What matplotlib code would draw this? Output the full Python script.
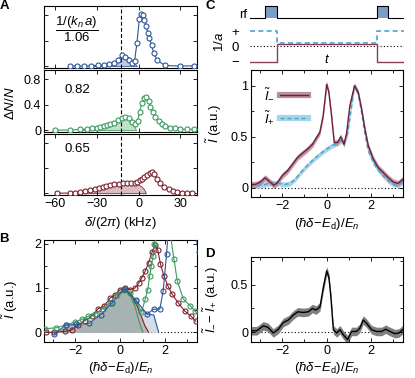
import numpy as np
import matplotlib.pyplot as plt
from matplotlib.ticker import MultipleLocator
from matplotlib.lines import Line2D

plt.rcParams['font.family'] = ['Liberation Sans', 'DejaVu Sans']
plt.rcParams['mathtext.fontset'] = 'custom'
plt.rcParams['mathtext.rm'] = 'Liberation Sans'
plt.rcParams['mathtext.it'] = 'Liberation Sans:italic'
plt.rcParams['mathtext.bf'] = 'Liberation Sans:bold'
plt.rcParams['font.size'] = 9
plt.rcParams['axes.linewidth'] = 0.8

W, H = 415, 378
FS = 9.5  # labels and in-panel text

# ---------------- panel A : dN/N vs delta/(2pi) in kHz
a_blue_x = [-49, -44, -39, -34, -29.5, -25, -21, -18, -15, -12, -9.6, -7.2, -4.8, -2.9, -1.2, 0.5,
            1.8, 3.0, 4.2, 5.4, 6.6, 7.8, 9.3, 11, 13.5, 19, 30, 39.6]
a_blue_y = [0, 0, 0, 0.005, 0.01, 0.02, 0.035, 0.05, 0.09, 0.17, 0.145, 0.09, 0.05, 0.08, 0.36, 0.74,
            0.82, 0.8, 0.73, 0.63, 0.53, 0.44, 0.33, 0.2, 0.09, 0.01, 0, 0.005]
a_blue_fill_x = [-34, -28, -23, -19, -15.5, -12, -9, -6.5, -3.6, -1.2]
a_blue_fill_y = [0, 0.008, 0.02, 0.05, 0.1, 0.17, 0.16, 0.13, 0.06, 0]

a_green_x = [-59.9, -49, -41.9, -37.1, -33.5, -29.9, -27.6, -25.2, -22.8, -20.4, -18, -14.8, -12, -9.6,
             -7.2, -4.8, -2.4, -0.7, 0.7, 2.4, 4.1, 5.5, 7.2, 8.4, 10.1, 12, 14.4, 16.8, 19.2, 22.8,
             26.4, 30, 34.8, 39.6]
a_green_y = [0, 0, 0.011, 0.016, 0.027, 0.037, 0.053, 0.069, 0.08, 0.091, 0.107, 0.16, 0.197, 0.213,
             0.187, 0.133, 0.09, 0.144, 0.293, 0.427, 0.507, 0.517, 0.453, 0.373, 0.293, 0.213, 0.144,
             0.096, 0.064, 0.037, 0.027, 0.016, 0.011, 0.011]
a_green_fill_x = [-42, -35, -27.6, -22, -18, -14.8, -12, -9.6, -7, -5, -3.4, -1.8]
a_green_fill_y = [0, 0.02, 0.05, 0.08, 0.105, 0.16, 0.197, 0.213, 0.19, 0.15, 0.08, 0]

a_red_x = [-58.7, -49.1, -45.5, -41.9, -38.3, -34.7, -31.6, -28.8, -25.9, -23.2, -20.4, -17.5, -14.4,
           -11.2, -8.3, -5.5, -2.9, -1.2, 0.7, 2.4, 4.1, 6, 7.9, 9.6, 11.3, 13.2, 15.6, 18.5, 21.6,
           24.7, 27.6, 31.2, 34.8, 38.4]
a_red_y = [0, 0, 0.005, 0.016, 0.032, 0.048, 0.064, 0.085, 0.1, 0.112, 0.128, 0.139, 0.144, 0.155,
           0.155, 0.155, 0.165, 0.181, 0.208, 0.235, 0.261, 0.299, 0.325, 0.341, 0.315, 0.235, 0.155,
           0.1, 0.059, 0.032, 0.016, 0.005, 0, 0]
a_red_fill_x = [-50, -45, -40, -35, -30, -25, -20, -15, -10, -5, -1, 2, 4, 5.2]
a_red_fill_y = [0, 0.02, 0.045, 0.07, 0.095, 0.12, 0.14, 0.158, 0.168, 0.165, 0.145, 0.11, 0.06, 0]

a_ratio_labels = ['1.06', '0.82', '0.65']
a_dashed_x = -13

# ---------------- panel B : normalised spectra vs (hbar delta - Ed)/En
b_red_x = [-3.3, -2.95, -2.46, -2.17, -1.87, -1.57, -1.27, -0.98, -0.72, -0.45, -0.22, 0.0, 0.22,
           0.45, 0.67, 0.82, 0.97, 1.12, 1.27, 1.42, 1.55, 1.68, 1.8, 1.95, 2.13, 2.32, 2.58, 2.88,
           3.15, 3.37]
b_red_y = [0.0, 0.0, 0.02, 0.05, 0.17, 0.26, 0.36, 0.53, 0.59, 0.77, 0.85, 0.96, 1.0, 0.96, 1.0, 1.1,
           1.23, 1.38, 1.57, 1.8, 1.97, 1.85, 1.54, 1.27, 1.05, 0.86, 0.67, 0.48, 0.37, 0.25]
b_green_x = [-3.35, -2.85, -2.4, -2.02, -1.72, -1.42, -1.12, -0.78, -0.45, -0.15, 0.15, 0.45, 0.72,
             0.95, 1.12, 1.23, 1.32, 1.39, 1.47, 1.53, 1.7, 1.95, 2.2, 2.4, 2.55, 2.82, 3.12, 3.33, 3.55]
b_green_y = [0.08, 0.1, 0.17, 0.23, 0.29, 0.36, 0.41, 0.53, 0.66, 0.85, 0.96, 0.89, 0.7, 0.45, 0.75,
             0.96, 1.27, 1.5, 1.72, 1.99, 2.3, 2.45, 2.35, 1.65, 1.16, 0.75, 0.6, 0.48, 0.38]
b_blue_x = [-2.95, -2.43, -1.95, -1.4, -0.85, -0.37, 0.18, 0.7, 1.2, 1.5, 1.77, 1.92, 2.07, 2.25,
            2.6, 3.1, 3.5]
b_blue_y = [-0.04, 0.16, 0.18, 0.2, 0.40, 0.66, 0.98, 0.72, 0.41, 0.52, 0.52, 0.93, 1.76, 3.0, 4.6,
            3.0, 1.8]
b_fill_left_x = [-2.95, -2.43, -1.95, -1.4, -0.85, -0.37, 0.18]
b_fill_left_y = [-0.04, 0.16, 0.18, 0.2, 0.40, 0.66, 0.98]
b_green_tail_x = [0.18, 0.45, 0.65, 0.8, 0.92, 1.02]
b_green_tail_y = [0.98, 0.82, 0.6, 0.33, 0.12, 0.0]
b_red_tail_x = [0.18, 0.5, 0.75, 0.95, 1.1, 1.27]
b_red_tail_y = [0.98, 0.85, 0.6, 0.35, 0.15, 0.0]
b_blue_tail_x = [0.18, 0.7, 1.2, 1.5, 1.72]
b_blue_tail_y = [0.98, 0.72, 0.41, 0.39, 0.0]

# ---------------- panel C : schematic and I- / I+
rf_t = [0, 0.097, 0.097, 0.173, 0.173, 0.827, 0.827, 0.898, 0.898, 1.0]
rf_on = [0, 0, 1, 1, 0, 0, 1, 1, 0, 0]
inv_a_t = [0, 0.173, 0.173, 0.827, 0.827, 1.0]
inv_a_plus = [1, 1, 0.22, 0.22, 1, 1]
inv_a_minus = [-1, -1, 0.18, 0.18, -1, -1]

c_minus_x = [-3.44, -3.2, -2.97, -2.77, -2.59, -2.37, -2.22, -1.99, -1.77, -1.54, -1.32, -1.09, -0.87,
             -0.64, -0.46, -0.31, -0.16, -0.04, 0.0, 0.1, 0.22, 0.34, 0.49, 0.63, 0.78, 0.9, 1.04,
             1.25, 1.42, 1.57, 1.72, 1.87, 2.1, 2.32, 2.55, 2.77, 3.0, 3.2, 3.44]
c_minus_y = [0.033, 0.033, 0.056, 0.098, 0.066, 0.023, 0.049, 0.121, 0.164, 0.23, 0.295, 0.338, 0.377,
             0.426, 0.492, 0.541, 0.705, 0.934, 1.015, 0.934, 0.705, 0.443, 0.443, 0.5, 0.426, 0.541,
             0.803, 1.0, 0.934, 0.77, 0.574, 0.41, 0.28, 0.197, 0.148, 0.098, 0.056, 0.043, 0.085]
c_plus_x = [-3.44, -3.07, -2.77, -2.47, -2.17, -1.87, -1.65, -1.42, -1.2, -0.97, -0.67, -0.37, -0.07,
            0.22, 0.45, 0.65, 0.8, 0.95, 1.1, 1.25, 1.42, 1.57, 1.72, 1.87, 2.1, 2.32, 2.55, 2.77,
            3.0, 3.2, 3.44]
c_plus_y = [0.016, 0.023, 0.033, 0.049, 0.043, 0.033, 0.043, 0.082, 0.141, 0.197, 0.262, 0.318, 0.37,
            0.41, 0.436, 0.459, 0.443, 0.541, 0.77, 1.0, 0.918, 0.738, 0.525, 0.36, 0.246, 0.174,
            0.115, 0.066, 0.033, 0.023, 0.06]
c_minus_err = 0.03
c_plus_err = 0.025

# ---------------- panel D : difference
d_x = [-3.44, -3.14, -2.85, -2.64, -2.4, -2.17, -1.95, -1.72, -1.5, -1.3, -1.05, -0.82, -0.64, -0.48,
       -0.3, -0.15, 0.0, 0.1, 0.19, 0.3, 0.45, 0.6, 0.75, 0.94, 1.12, 1.34, 1.49, 1.64, 1.79, 2.02,
       2.24, 2.47, 2.65, 2.84, 3.07, 3.25, 3.44]
d_y = [0.013, 0.013, 0.065, 0.05, -0.01, 0.03, 0.1, 0.127, 0.179, 0.213, 0.206, 0.213, 0.248, 0.231,
       0.265, 0.472, 0.644, 0.575, 0.368, 0.024, -0.01, 0.024, -0.03, -0.08, 0.006, 0.006, 0.04,
       0.127, 0.093, 0.024, 0.006, 0.006, 0.03, 0.006, -0.017, -0.01, 0.03]
d_err = 0.045

BLUE, BLUE_F = '#2d5596', '#b9c4dd'
GREEN, GREEN_F = '#3c9a5f', '#bcdcc5'
RED, RED_F = '#7d2230', '#d6b6ba'
C_RED, C_RED_F = '#6e1f3c', '#b8909f'
C_BLUE, C_BLUE_F = '#4aa3cd', '#a9d4e7'
XLAB = r'$(\hbar\delta\!-\!E_{\rm d})/E_n$'


def rect(x0, y0, x1, y1):
    return [x0 / W, 1 - y1 / H, (x1 - x0) / W, (y1 - y0) / H]


def style(ax):
    ax.tick_params(direction='in', which='both', top=True, right=True, length=3, width=0.6, pad=2)
    ax.tick_params(which='minor', length=2)


fig = plt.figure(figsize=(W / 100, H / 100), dpi=100)

# ---- A
a_sets = [(a_blue_x, a_blue_y, a_blue_fill_x, a_blue_fill_y, BLUE, BLUE_F),
          (a_green_x, a_green_y, a_green_fill_x, a_green_fill_y, GREEN, GREEN_F),
          (a_red_x, a_red_y, a_red_fill_x, a_red_fill_y, RED, RED_F)]
a_rows = [(6, 68), (70, 132), (134, 195)]
for i, (xs, ys, fx, fy, col, fcol) in enumerate(a_sets):
    ax = fig.add_axes(rect(44, a_rows[i][0], 197, a_rows[i][1]))
    ax.fill_between(fx, 0, fy, color=fcol, lw=0.6, ec=col, alpha=0.9, zorder=1)
    ax.axvline(a_dashed_x, color='k', ls=(0, (3.5, 2)), lw=0.8, zorder=2)
    ax.plot(xs, ys, '-o', color=col, lw=0.8, ms=3.6, mfc='white', mew=0.8, zorder=3)
    ax.set_xlim(-68, 42)
    ax.set_ylim(-0.03, 0.95)
    ax.set_xticks([-60, -30, 0, 30])
    ax.set_yticks([0, 0.4, 0.8])
    style(ax)
    if i == 1:
        ax.set_yticklabels(['0', '0.4', '0.8'])
        ax.set_ylabel(r'$\Delta N/N$', fontsize=FS)
        ax.yaxis.set_label_coords(-0.175, 0.47)
    else:
        ax.set_yticklabels([])
    if i == 2:
        ax.set_xticklabels(['\u221260', '\u221230', '0', '30'])
        ax.set_xlabel(r'$\delta/(2\pi)$ (kHz)', fontsize=FS, labelpad=4)
    else:
        ax.set_xticklabels([])
    if i == 0:
        ax.text(0.21, 0.62, r'$\dfrac{1/(k_n\,a)}{%s}$' % a_ratio_labels[0], transform=ax.transAxes,
                ha='center', va='center', fontsize=FS)
    else:
        ax.text(0.215, 0.68 if i == 1 else 0.75, a_ratio_labels[i], transform=ax.transAxes,
                ha='center', va='center', fontsize=FS)

# ---- B
axb = fig.add_axes(rect(44, 240, 197, 342))
bx = b_fill_left_x
axb.fill_between(bx + b_blue_tail_x[1:], 0, b_fill_left_y + b_blue_tail_y[1:], color='#d6dbe8', lw=0, zorder=1)
axb.fill_between(bx + b_red_tail_x[1:], 0, b_fill_left_y + b_red_tail_y[1:], color='#bdb3bb', lw=0, zorder=1.1)
axb.fill_between(bx + b_green_tail_x[1:], 0, b_fill_left_y + b_green_tail_y[1:], color='#a7b3b0', lw=0, zorder=1.2)
axb.plot(b_blue_tail_x[2:], b_blue_tail_y[2:], color=BLUE, lw=0.8, zorder=1.5)
axb.plot(b_red_tail_x, b_red_tail_y, color=RED, lw=0.8, zorder=1.5)
axb.plot(b_green_tail_x, b_green_tail_y, color=GREEN, lw=0.8, zorder=1.5)
axb.axhline(0, color='k', ls=(0, (1, 2)), lw=0.8, zorder=0.5)
for xs, ys, col in [(b_red_x, b_red_y, RED), (b_green_x, b_green_y, GREEN), (b_blue_x, b_blue_y, BLUE)]:
    axb.plot(xs, ys, '-o', color=col, lw=0.8, ms=3.6, mfc='none', mew=0.8, zorder=3)
axb.set_xlim(-3.4, 3.43)
axb.set_ylim(-0.22, 2.08)
axb.set_xticks([-2, 0, 2], ['\u22122', '0', '2'])
axb.xaxis.set_minor_locator(MultipleLocator(1))
axb.set_yticks([0, 1, 2])
axb.yaxis.set_minor_locator(MultipleLocator(0.5))
style(axb)
axb.set_xlabel(XLAB, fontsize=FS, labelpad=2)
axb.set_ylabel(r'$\tilde{I}$ (a.u.)', fontsize=FS)
axb.yaxis.set_label_coords(-0.155, 0.42)

# ---- C schematic
axrf = fig.add_axes(rect(250, 3, 404, 21))
axrf.fill_between(rf_t, 0, rf_on, color='#7e9dc6', lw=0)
axrf.plot(rf_t, rf_on, color='k', lw=0.8)
axrf.set_xlim(0, 1)
axrf.set_ylim(-0.22, 1.24)
axrf.set_xticks([])
axrf.set_yticks([0.4], ['rf'])
axrf.tick_params(axis='y', length=0, pad=2, labelsize=FS)
for s in axrf.spines.values():
    s.set_visible(False)

axa = fig.add_axes(rect(250, 24, 404, 68))
axa.axhline(0, color='k', ls=(0, (1, 2)), lw=0.8)
axa.plot(inv_a_t, inv_a_minus, color='#8a3a5c', lw=1.0)
axa.plot(inv_a_t, inv_a_plus, color=C_BLUE, lw=1.2, ls=(0, (3, 2)))
axa.set_xlim(0, 1)
axa.set_ylim(-1.41, 1.456)
axa.set_xticks([])
axa.set_yticks([1, 0, -1], ['+', '0', '\u2212'])
axa.tick_params(axis='y', length=0, pad=8, labelsize=FS)
axa.set_ylabel(r'$1/a$', fontsize=FS)
axa.yaxis.set_label_coords(-0.155, 0.6)
axa.text(0.498, -0.84, r'$t$', ha='center', va='center', fontsize=FS)
for s in axa.spines.values():
    s.set_visible(False)

# ---- C main
axc = fig.add_axes(rect(251, 70, 403, 197))
axc.axhline(0, color='k', ls=(0, (1, 2)), lw=0.8, zorder=0.5)
cm = np.array(c_minus_y)
cp = np.array(c_plus_y)
axc.fill_between(c_plus_x, cp - c_plus_err, cp + c_plus_err, color=C_BLUE_F, lw=0, zorder=1)
axc.fill_between(c_minus_x, cm - c_minus_err, cm + c_minus_err, color=C_RED_F, lw=0, zorder=1.1, alpha=0.9)
axc.plot(c_plus_x, c_plus_y, color=C_BLUE, lw=1.0, ls=(0, (3, 2)), zorder=2)
axc.plot(c_minus_x, c_minus_y, color=C_RED, lw=1.0, zorder=2.1)
h_minus = (Line2D([], [], color=C_RED_F, lw=4.5), Line2D([], [], color=C_RED, lw=1.0))
h_plus = (Line2D([], [], color=C_BLUE_F, lw=4.5), Line2D([], [], color=C_BLUE, lw=1.0, ls=(0, (3, 2))))
axc.legend([h_minus, h_plus], [r'$\tilde{I}_{-}$', r'$\tilde{I}_{+}$'], loc='upper left',
           bbox_to_anchor=(0.05, 0.9), frameon=False, markerfirst=False, handlelength=2.1,
           labelspacing=0.5, handletextpad=0.4, fontsize=FS, borderaxespad=0)
axc.set_xlim(-3.4, 3.43)
axc.set_ylim(-0.09, 1.155)
axc.set_xticks([-2, 0, 2], ['\u22122', '0', '2'])
axc.xaxis.set_minor_locator(MultipleLocator(1))
axc.set_yticks([0, 0.5, 1], ['0', '0.5', '1'])
axc.yaxis.set_minor_locator(MultipleLocator(0.25))
style(axc)
axc.set_xlabel(XLAB, fontsize=FS, labelpad=3)
axc.set_ylabel(r'$\tilde{I}$ (a.u.)', fontsize=FS)
axc.yaxis.set_label_coords(-0.18, 0.58)

# ---- D
axd = fig.add_axes(rect(251, 257, 403, 342))
axd.axhline(0, color='k', ls=(0, (1, 2)), lw=0.8, zorder=0.5)
dy = np.array(d_y)
axd.fill_between(d_x, dy - d_err, dy + d_err, color='#808080', lw=0, zorder=1)
axd.plot(d_x, d_y, color='k', lw=1.0, zorder=2)
axd.set_xlim(-3.4, 3.43)
axd.set_ylim(-0.105, 0.79)
axd.set_xticks([-2, 0, 2], ['\u22122', '0', '2'])
axd.xaxis.set_minor_locator(MultipleLocator(1))
axd.set_yticks([0, 0.5], ['0', '0.5'])
axd.yaxis.set_minor_locator(MultipleLocator(0.25))
style(axd)
axd.set_xlabel(XLAB, fontsize=FS, labelpad=2)
axd.set_ylabel(r'$\tilde{I}_{-}\!-\,\tilde{I}_{+}$ (a.u.)', fontsize=FS)
axd.yaxis.set_label_coords(-0.2, 0.5)

# panel letters
for lab, x, y in [('A', 4, 6), ('B', 4, 239), ('C', 210, 6), ('D', 210, 254)]:
    fig.text(x / W, 1 - y / H, lab, fontsize=FS, fontweight='bold', ha='center', va='center')

fig.savefig('out.png', dpi=100)
